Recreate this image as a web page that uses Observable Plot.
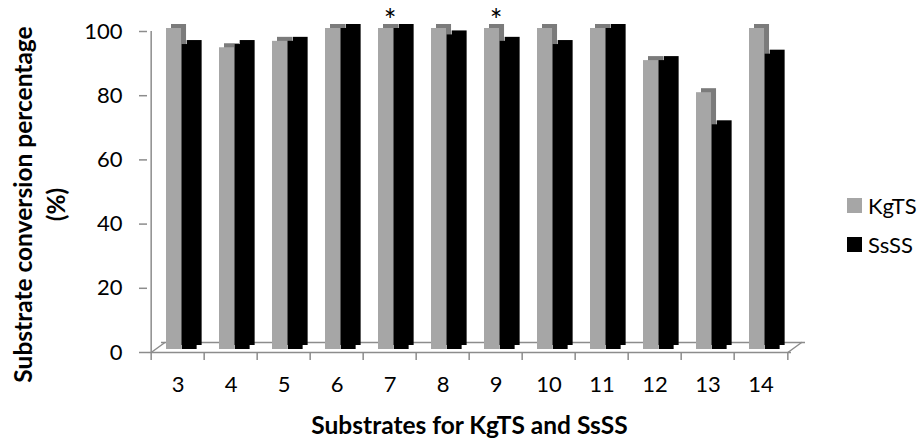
<!DOCTYPE html>
<html>
<head>
<meta charset="utf-8">
<script src="https://cdn.jsdelivr.net/npm/d3@7"></script>
<script src="https://cdn.jsdelivr.net/npm/@observablehq/plot@0.6"></script>
<style>
  body { margin: 0; background: #fff; }
  #wrap { position: relative; width: 922px; height: 439px; font-family: Lato, "Open Sans", sans-serif; }
  .legend { position: absolute; left: 847px; font-size: 22px; color: #000; }
  .legend div { display: flex; align-items: center; height: 39px; }
  .legend span.sw { display: inline-block; width: 15px; height: 15px; margin-right: 6px; }
</style>
</head>
<body>
<div id="wrap"></div>
<script>
const categories = ["3","4","5","6","7","8","9","10","11","12","13","14"];
const kgtsValues = [100, 94, 96, 100, 100, 100, 100, 100, 100, 90, 80, 100];
const sssValues  = [95, 95, 96, 100, 100, 98, 96, 95, 100, 90, 70, 92];
const starred = ["7", "9"];
const yTicks = [0, 20, 40, 60, 80, 100];
const seriesNames = ["KgTS", "SsSS"];
const seriesColors = {KgTS: "#a6a6a6", SsSS: "#000000"};
const sideColors = {KgTS: "#7b7b7b", SsSS: "#000000"};

const kgts = categories.map((c, i) => ({cat: c, value: kgtsValues[i]}));
const ssss = categories.map((c, i) => ({cat: c, value: sssValues[i]}));

const W = 922, H = 439, ML = 147, MR = 131, MT = 31, MB = 87;
const bw = (W - ML - MR) / categories.length;
const axisGray = "#8c8c8c";
const font = "Lato, 'Open Sans', sans-serif";

const line = {draw(context, l) { context.moveTo(0, 0); context.lineTo(0, -l); }};

function bars(data, name, inL, inR) {
  return [
    Plot.rectY(data, {x: "cat", y: "value", fill: sideColors[name], insetLeft: inL, insetRight: inR, dx: 5, dy: -7}),
    Plot.rectY(data, {x: "cat", y: "value", fill: seriesColors[name], insetLeft: inL, insetRight: inR, dy: -3})
  ];
}

const chart = Plot.plot({
  width: W, height: H,
  marginLeft: ML, marginRight: MR, marginTop: MT, marginBottom: MB,
  style: {fontFamily: font, fontSize: "22px", background: "#fff"},
  x: {type: "band", domain: categories, padding: 0, label: null},
  y: {domain: [0, 100], label: null},
  marks: [
    // floor
    Plot.ruleY([0], {stroke: axisGray, strokeWidth: 1.5, dx: 14, dy: -10}),
    Plot.ruleY([0], {stroke: axisGray, strokeWidth: 1.5}),
    Plot.vector([categories[0]], {x: d => d, y: 0, dx: -bw / 2, length: 17, rotate: 54, anchor: "start", shape: line, stroke: axisGray, strokeWidth: 1.5}),
    Plot.vector([categories[categories.length - 1]], {x: d => d, y: 0, dx: bw / 2, length: 17, rotate: 54, anchor: "start", shape: line, stroke: axisGray, strokeWidth: 1.5}),
    // bars
    ...bars(kgts, "KgTS", 15, bw - 30.7),
    ...bars(ssss, "SsSS", 30.7, bw - 46.3),
    // y axis line
    Plot.ruleX([categories[0]], {y1: 0, y2: 100, dx: -bw / 2, stroke: axisGray, strokeWidth: 1.5}),
    // x ticks at band boundaries
    Plot.ruleX(categories, {y1: 0, y2: 0, insetBottom: -8, dx: -bw / 2, stroke: axisGray, strokeWidth: 1.5}),
    Plot.ruleX([categories[categories.length - 1]], {y1: 0, y2: 0, insetBottom: -8, dx: bw / 2, stroke: axisGray, strokeWidth: 1.5}),
    Plot.axisY({ticks: yTicks, tickSize: 8, tickPadding: 17, stroke: axisGray, strokeWidth: 1.5, fill: "#000", fontSize: 22, label: null}),
    Plot.axisX({tickSize: 0, tickPadding: 24, fill: "#000", fontSize: 22, label: null}),
    // asterisks
    Plot.text(starred, {x: d => d, y: 100, text: () => "*", fontSize: 30, lineAnchor: "top", dy: -22, fill: "#000"}),
    // axis titles
    Plot.text(["Substrate conversion percentage"], {frameAnchor: "left", textAnchor: "middle", lineAnchor: "middle", text: d => d, rotate: -90, dx: -123, dy: 12.5, fontWeight: "bold", fontSize: 24.5, fill: "#000"}),
    Plot.text(["(%)"], {frameAnchor: "left", textAnchor: "middle", lineAnchor: "middle", text: d => d, rotate: -90, dx: -90, dy: 12.5, fontWeight: "bold", fontSize: 24.5, fill: "#000"}),
    Plot.text(["Substrates for KgTS and SsSS"], {frameAnchor: "bottom", textAnchor: "middle", lineAnchor: "middle", text: d => d, dy: 74, fontWeight: "bold", fontSize: 24.5, fill: "#000"})
  ]
});

const wrap = document.getElementById("wrap");
wrap.appendChild(chart);
const legend = document.createElement("div");
legend.className = "legend";
legend.style.top = "186px";
seriesNames.forEach(n => {
  const row = document.createElement("div");
  const sw = document.createElement("span");
  sw.className = "sw";
  sw.style.background = seriesColors[n];
  row.appendChild(sw);
  row.appendChild(document.createTextNode(n));
  legend.appendChild(row);
});
wrap.appendChild(legend);
chart.style.position = "absolute";
chart.style.left = "0";
chart.style.top = "0";
</script>
</body>
</html>
